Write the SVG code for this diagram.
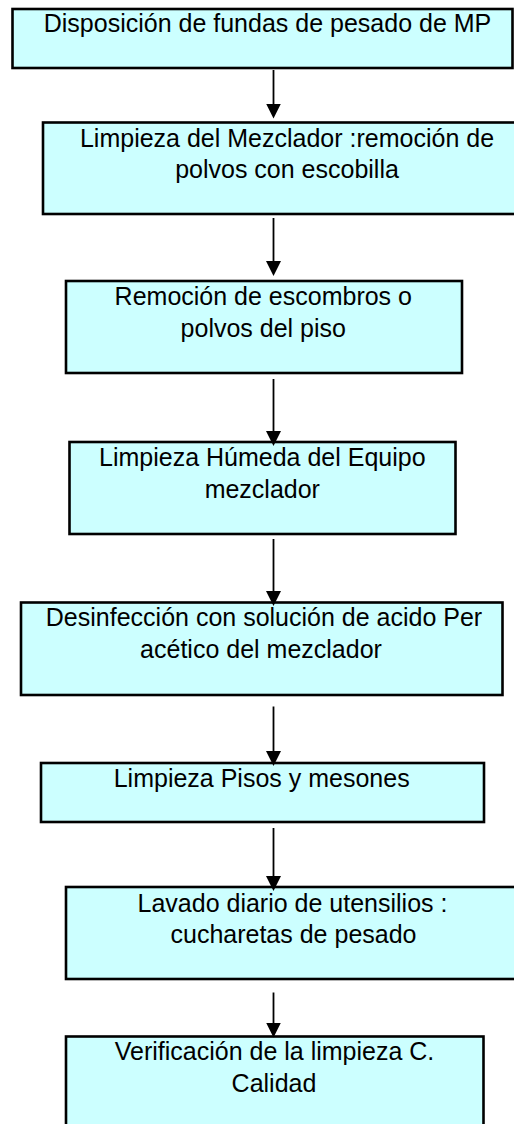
<svg xmlns="http://www.w3.org/2000/svg" width="514" height="1124" viewBox="0 0 514 1124">
<style>
.box{fill:#CCFFFF;stroke:#000;stroke-width:2.6}
.t{font-family:"Liberation Sans",Arial,sans-serif;font-size:25px;fill:#000;text-anchor:middle}
.c{stroke:#000;stroke-width:1.8;fill:none}
</style>
<defs>
<marker id="ah" viewBox="0 0 15 15" refX="7" refY="7.5" markerWidth="15" markerHeight="15" markerUnits="userSpaceOnUse" orient="auto">
<path d="M0,0 L15,7.5 L0,15 z" fill="#000"/>
</marker>
</defs>
<rect width="514" height="1124" fill="#fff"/>
<g id="n1"><rect class="box" x="12.5" y="9" width="500" height="59"/><text class="t" x="267.5" y="31.7">Disposición de fundas de pesado de MP</text></g>
<g id="n2"><rect class="box" x="43" y="122.5" width="480" height="91.5"/><text class="t" x="287" y="147.3">Limpieza del Mezclador :remoción de</text><text class="t" x="287" y="178.3">polvos con escobilla</text></g>
<g id="n3"><rect class="box" x="66" y="281" width="396" height="92"/><text class="t" x="263.3" y="305">Remoción de escombros o</text><text class="t" x="263.3" y="336.7">polvos del piso</text></g>
<g id="n4"><rect class="box" x="69.5" y="442" width="386" height="92"/><text class="t" x="262.3" y="465.5">Limpieza Húmeda del Equipo</text><text class="t" x="262.3" y="498">mezclador</text></g>
<g id="n5"><rect class="box" x="21" y="602.5" width="481.5" height="92.5"/><text class="t" x="264" y="625.5">Desinfección con solución de acido Per</text><text class="t" x="261" y="658">acético del mezclador</text></g>
<g id="n6"><rect class="box" x="41" y="763" width="443" height="59"/><text class="t" x="261.7" y="786.7">Limpieza Pisos y mesones</text></g>
<g id="n7"><rect class="box" x="66" y="887" width="460" height="92"/><text class="t" x="292.5" y="911.7">Lavado diario de utensilios :</text><text class="t" x="293.5" y="943.3">cucharetas de pesado</text></g>
<g id="n8"><rect class="box" x="66" y="1036.5" width="417.5" height="100"/><text class="t" x="274.5" y="1059.5">Verificación de la limpieza C.</text><text class="t" x="274" y="1091.7">Calidad</text></g>
<g id="connectors">
<line class="c" x1="273.5" y1="70" x2="273.5" y2="110.5" marker-end="url(#ah)"/>
<line class="c" x1="273.5" y1="218" x2="273.5" y2="268" marker-end="url(#ah)"/>
<line class="c" x1="273.5" y1="379" x2="273.5" y2="438" marker-end="url(#ah)"/>
<line class="c" x1="273.5" y1="539" x2="273.5" y2="598" marker-end="url(#ah)"/>
<line class="c" x1="273.5" y1="706.5" x2="273.5" y2="758" marker-end="url(#ah)"/>
<line class="c" x1="273.5" y1="828" x2="273.5" y2="883" marker-end="url(#ah)"/>
<line class="c" x1="273.5" y1="992.5" x2="273.5" y2="1029.5" marker-end="url(#ah)"/>
</g>
</svg>
